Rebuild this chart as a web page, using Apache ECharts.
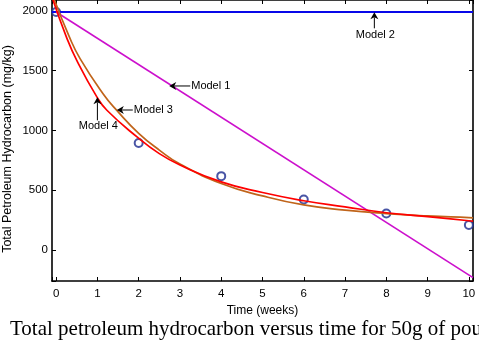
<!DOCTYPE html>
<html>
<head>
<meta charset="utf-8">
<script src="https://cdn.jsdelivr.net/npm/echarts@6/dist/echarts.min.js"></script>
<style>
html,body{margin:0;padding:0;background:#fff;}
#c{width:479px;height:345px;}
</style>
</head>
<body>
<div id="c"></div>
<script>
// Observed data (weeks, mg/kg)
var obsTime = [0, 2, 4, 6, 8, 10];
var obsTPH  = [1990, 894, 617, 422, 305, 208];

// Model 1 (linear) endpoints
var m1Time = [0, 10.1];
var m1TPH  = [1990, -232];

// Model 2 (constant)
var m2Time = [-0.1, 10.1];
var m2TPH  = [1990, 1990];

// Model 3 (brown)
var m3Time = [-0.04, 0.31, 0.58, 1.15, 1.47, 2, 2.5, 3, 4, 5, 6, 7, 8, 9, 10, 10.1];
var m3TPH  = [2090, 1790, 1600, 1300, 1167, 975, 835, 718, 555, 452, 376, 333, 304, 284, 270, 268];

// Model 4 (red)
var m4Time = [-0.08, 0.25, 0.5, 0.99, 1.23, 1.96, 2.5, 3, 4, 5, 6, 7, 8, 9, 10, 10.1];
var m4TPH  = [2095, 1780, 1585, 1278, 1168, 945, 805, 710, 569, 480, 411, 360, 311, 278, 244, 241];

var xTicks = [0,1,2,3,4,5,6,7,8,9,10];
var yTicks = [0,500,1000,1500,2000];

// annotation labels and arrow tips (data coords)
var annLabels = ['Model 1', 'Model 2', 'Model 3', 'Model 4'];
var annTipTime = [2.74, 7.71, 1.47, 1.0];
var annTipTPH  = [1371, 1987, 1170, 1276];

// annotation layout (pixels): direction, shaft length, text offset
var annLayout = {
  'Model 1': {dir:'left', shaft:21, textOff:22},
  'Model 2': {dir:'up',   shaft:16, textOff:23},
  'Model 3': {dir:'left', shaft:16, textOff:17},
  'Model 4': {dir:'up',   shaft:23, textOff:29}
};

function zip(a,b){return a.map(function(x,i){return [x,b[i]];});}

var FONT = 'Liberation Sans, Arial, Helvetica, sans-serif';
var chart = echarts.init(document.getElementById('c'));

var xCommon = {
  type:'value', min:-0.1, max:10.1, minInterval:1, maxInterval:1,
  splitLine:{show:false},
  axisLine:{show:true, onZero:false, lineStyle:{color:'#000', width:1.6}},
  axisTick:{show:true, inside:true, length:4, lineStyle:{color:'#000'}}
};
var yCommon = {
  type:'value', min:-260, max:2090, minInterval:500, maxInterval:500,
  splitLine:{show:false},
  axisLine:{show:true, onZero:false, lineStyle:{color:'#000', width:1.6}},
  axisTick:{show:true, inside:true, length:4, lineStyle:{color:'#000'}}
};

var option = {
  animation:false,
  backgroundColor:'#fff',
  grid:{left:52, right:6, top:0, bottom:64, containLabel:false},
  xAxis:[
    Object.assign({}, xCommon, {
      position:'bottom',
      axisLabel:{show:true, margin:7, color:'#000', fontFamily:FONT, fontSize:11.5,
        formatter:function(v){return xTicks.indexOf(v)>=0 ? String(v) : '';}},
      name:'Time (weeks)', nameLocation:'middle', nameGap:21,
      nameTextStyle:{color:'#000', fontFamily:FONT, fontSize:12}
    }),
    Object.assign({}, xCommon, {position:'top', axisLabel:{show:false}})
  ],
  yAxis:[
    Object.assign({}, yCommon, {
      position:'left',
      axisLabel:{show:true, margin:4, color:'#000', fontFamily:FONT, fontSize:11.5,
        formatter:function(v){return yTicks.indexOf(v)>=0 ? String(v) : '';}}
    }),
    Object.assign({}, yCommon, {position:'right', axisLabel:{show:false}})
  ],
  series:[
    {type:'scatter', data:zip(obsTime, obsTPH), symbol:'emptyCircle', symbolSize:8,
     itemStyle:{color:'#1c2a8e', borderColor:'#1c2a8e', borderWidth:2.5}, z:2},
    {type:'line', data:zip(m2Time, m2TPH), showSymbol:false, lineStyle:{color:'#0808e8', width:2}, z:3},
    {type:'line', data:zip(m1Time, m1TPH), showSymbol:false, lineStyle:{color:'#cc10cc', width:1.6}, z:3},
    {type:'line', data:zip(m3Time, m3TPH), showSymbol:false, smooth:0.5, lineStyle:{color:'#c0641a', width:1.7}, z:3},
    {type:'line', data:zip(m4Time, m4TPH), showSymbol:false, smooth:0.5, lineStyle:{color:'#ff0000', width:1.7}, z:4}
  ]
};
chart.setOption(option);

var graphics = [];
annLabels.forEach(function(label, i){
  var lay = annLayout[label];
  var p = chart.convertToPixel({xAxisIndex:0, yAxisIndex:0}, [annTipTime[i], annTipTPH[i]]);
  var tx = p[0], ty = p[1];
  if (lay.dir === 'left') {
    graphics.push({type:'polygon', shape:{points:[[tx,ty],[tx+7,ty-4],[tx+5,ty],[tx+7,ty+4]]}, style:{fill:'#000'}, z:10});
    graphics.push({type:'line', shape:{x1:tx+5, y1:ty, x2:tx+lay.shaft, y2:ty}, style:{stroke:'#000', lineWidth:1}, z:10});
    graphics.push({type:'text', x:tx+lay.textOff, y:ty, style:{text:label, font:'11px '+FONT, fill:'#000', textAlign:'left', textVerticalAlign:'middle'}, z:10});
  } else {
    graphics.push({type:'polygon', shape:{points:[[tx,ty],[tx-4,ty+7],[tx,ty+5],[tx+4,ty+7]]}, style:{fill:'#000'}, z:10});
    graphics.push({type:'line', shape:{x1:tx, y1:ty+5, x2:tx, y2:ty+lay.shaft}, style:{stroke:'#000', lineWidth:1}, z:10});
    graphics.push({type:'text', x:tx+1, y:ty+lay.textOff, style:{text:label, font:'11px '+FONT, fill:'#000', textAlign:'center', textVerticalAlign:'middle'}, z:10});
  }
});
graphics.push({type:'text', x:8, y:149, rotation:Math.PI/2,
  style:{text:'Total Petroleum Hydrocarbon (mg/kg)', font:'12.5px '+FONT, fill:'#000', textAlign:'center', textVerticalAlign:'middle'}});
graphics.push({type:'text', x:10, y:329,
  style:{text:'Total petroleum hydrocarbon versus time for 50g of poultry droppings', font:'21px "Liberation Serif", "Times New Roman", serif', fill:'#000', textAlign:'left', textVerticalAlign:'middle'}});
chart.setOption({graphic:graphics});
</script>
</body>
</html>
